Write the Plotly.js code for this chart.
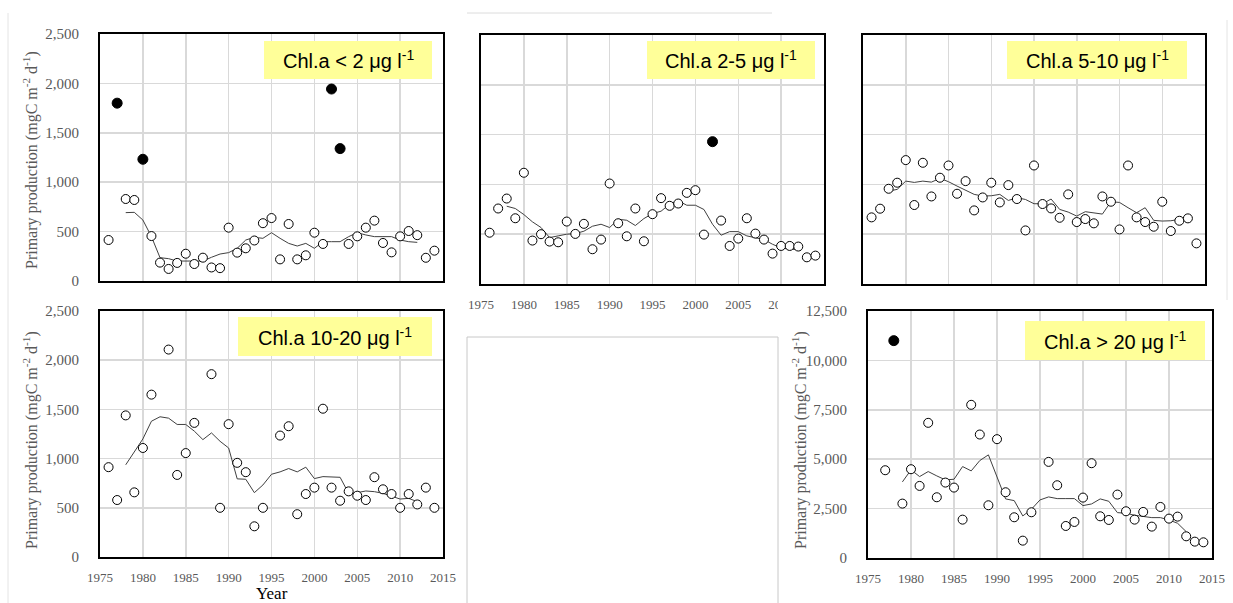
<!DOCTYPE html>
<html>
<head>
<meta charset="utf-8">
<script src="https://cdn.plot.ly/plotly-3.0.1.min.js"></script>
<style>html,body{margin:0;padding:0;background:#fff;}#chart{width:1233px;height:603px;}</style>
</head>
<body>
<div id="chart"></div>
<script>
// ---------- DATA ----------
const panelLabels = ['Chl.a < 2 μg l<sup>-1</sup>', 'Chl.a 2-5 μg l<sup>-1</sup>', 'Chl.a 5-10 μg l<sup>-1</sup>', 'Chl.a 10-20 μg l<sup>-1</sup>', 'Chl.a > 20 μg l<sup>-1</sup>'];
const yTitle = 'Primary production (mgC m<sup>-2</sup> d<sup>-1</sup>)';
const xTitle = 'Year';
const yearTicks = [1975, 1980, 1985, 1990, 1995, 2000, 2005, 2010, 2015];
const yearTicksP2 = [1975, 1980, 1985, 1990, 1995, 2000, 2005, 2010];

// Panel 1: Chl.a < 2
const yearsP1 = [1976,1978,1979,1981,1982,1983,1984,1985,1986,1987,1988,1989,1990,1991,1992,1993,1994,1995,1996,1997,1998,1999,2000,2001,2004,2005,2006,2007,2008,2009,2010,2011,2012,2013,2014];
const ppP1    = [415,830,820,455,186,122,183,276,172,236,137,130,540,287,331,410,585,637,219,577,219,260,489,375,375,452,540,611,385,290,452,506,464,235,307];
const outYearsP1 = [1977,1980,2002,2003];
const outP1      = [1800,1232,1943,1340];
const maYearsP1 = [1978,1979,1980,1981,1982,1983,1984,1985,1986,1987,1988,1989,1990,1991,1992,1993,1994,1995,1996,1997,1998,1999,2000,2001,2002,2003,2004,2005,2006,2007,2008,2009,2010,2011,2012];
const maP1      = [692,695,617,449,236,226,202,202,200,202,240,273,287,331,415,442,432,489,432,381,354,381,331,398,398,398,449,489,466,449,449,449,415,398,391];

// Panel 2: Chl.a 2-5
const yearsP2 = [1976,1977,1978,1979,1980,1981,1982,1983,1984,1985,1986,1987,1988,1989,1990,1991,1992,1993,1994,1995,1996,1997,1998,1999,2000,2001,2003,2004,2005,2006,2007,2008,2009,2010,2011,2012,2013,2014];
const ppP2    = [515,758,858,660,1117,436,500,426,419,627,503,604,349,446,1009,610,479,758,429,701,862,785,808,915,942,496,637,382,456,660,506,446,305,382,382,376,268,285];
const outYearsP2 = [2002];
const outP2      = [1429];
const maYearsP2 = [1978,1979,1980,1981,1982,1983,1984,1985,1986,1987,1988,1989,1990,1991,1992,1993,1994,1995,1996,1997,1998,1999,2000,2001,2002,2003,2004,2005,2006,2007,2008,2009,2010,2011,2012];
const maP2      = [781,758,697,624,567,466,483,500,506,530,580,600,567,650,640,587,657,707,731,801,835,791,791,748,600,490,526,526,483,466,446,399,362,349,345];

// Panel 3: Chl.a 5-10
const yearsP3 = [1976,1977,1978,1979,1980,1981,1982,1983,1984,1985,1986,1987,1988,1989,1990,1991,1992,1993,1994,1995,1996,1997,1998,1999,2000,2001,2002,2003,2004,2005,2006,2007,2008,2009,2010,2011,2012,2013,2014];
const ppP3    = [669,756,956,1017,1244,793,1217,879,1067,1190,906,1033,739,869,1017,819,993,853,538,1190,803,759,665,900,622,652,609,879,826,548,1190,669,622,575,826,532,635,659,408];
const maYearsP3 = [1978,1979,1980,1981,1982,1983,1984,1985,1986,1987,1988,1989,1990,1991,1992,1993,1994,1995,1996,1997,1998,1999,2000,2001,2002,2003,2004,2005,2006,2007,2008,2009,2010,2011,2012];
const maP3      = [933,950,1033,1020,1033,1023,1060,1027,983,940,900,883,886,900,839,866,849,806,806,853,749,722,682,726,716,702,826,819,766,716,766,639,632,635,649];

// Panel 4: Chl.a 10-20
const yearsP4 = [1976,1977,1978,1979,1980,1981,1983,1984,1985,1986,1988,1989,1990,1991,1992,1993,1994,1996,1997,1998,1999,2000,2001,2002,2003,2004,2005,2006,2007,2008,2009,2010,2011,2012,2013,2014];
const ppP4    = [913,579,1439,657,1108,1650,2108,834,1056,1363,1858,500,1350,957,862,312,500,1234,1329,435,640,705,1507,705,572,667,623,579,811,688,640,500,640,534,705,500];
const maYearsP4 = [1978,1979,1980,1981,1982,1983,1984,1985,1986,1987,1988,1989,1990,1991,1992,1993,1994,1995,1996,1997,1998,1999,2000,2001,2002,2003,2004,2005,2006,2007,2008,2009,2010,2011,2012];
const maP4      = [937,1073,1200,1380,1425,1411,1347,1347,1279,1193,1261,1176,1108,794,790,654,732,841,865,899,865,913,797,817,817,810,647,654,671,664,647,620,589,596,562];

// Panel 5: Chl.a > 20
const yearsP5 = [1977,1979,1980,1981,1982,1983,1984,1985,1986,1987,1988,1989,1990,1991,1992,1993,1994,1996,1997,1998,1999,2000,2001,2002,2003,2004,2005,2006,2007,2008,2009,2010,2011,2012,2013,2014];
const ppP5    = [4442,2753,4493,3648,6840,3074,3817,3564,1942,7752,6249,2669,6013,3327,2061,878,2314,4864,3682,1621,1824,3057,4797,2111,1925,3209,2365,1942,2331,1588,2584,1993,2094,1098,828,794];
const outYearsP5 = [1978];
const outP5      = [11000];
const maYearsP5 = [1979,1980,1981,1982,1983,1984,1985,1986,1987,1988,1989,1990,1991,1992,1993,1994,1995,1996,1997,1998,1999,2000,2001,2002,2003,2004,2005,2006,2007,2008,2009,2010,2011,2012];
const maP5      = [3851,4459,4121,4375,4155,3952,3986,4628,4408,4932,5219,4121,2990,2905,2128,2466,2939,3091,3006,3006,3006,2652,2736,2990,2871,2297,2263,2162,2094,2044,2044,1925,1757,1334];

// ---------- LAYOUT HELPERS ----------
const W = 1233, H = 603;
const px = x => x / W;
const py = y => 1 - y / H;

const gridC = '#d9d9d9';
const tickC = '#595959';
const serif = 'Liberation Serif, Times New Roman, serif';
const sans = 'Liberation Sans, Arial, sans-serif';

function xAxis(l, r, anchor, showLabels, tv) {
  return {
    domain: [px(l), px(r)], anchor: anchor, range: [1975, 2015], tickmode: 'array', tickvals: tv,
    showgrid: true, gridcolor: gridC, gridwidth: 1.5, zeroline: false,
    showline: true, mirror: true, linecolor: '#000', linewidth: 2,
    ticks: '', showticklabels: showLabels, ticklabelstandoff: 7,
    tickfont: {family: serif, size: 13, color: tickC}, fixedrange: true
  };
}
function yAxis(t, b, anchor, maxV, step, showLabels) {
  return {
    domain: [py(b), py(t)], anchor: anchor, range: [0, maxV], tick0: 0, dtick: step,
    showgrid: true, gridcolor: gridC, gridwidth: 1.5, zeroline: false,
    showline: true, mirror: true, linecolor: '#000', linewidth: 2,
    ticks: '', showticklabels: showLabels, tickformat: ',', ticklabelstandoff: 16,
    tickfont: {family: serif, size: 15, color: tickC}, fixedrange: true
  };
}

const panels = [
  {xa: 'x',  ya: 'y',  yrs: yearsP1, vals: ppP1, oy: outYearsP1, ov: outP1, my: maYearsP1, mv: maP1},
  {xa: 'x2', ya: 'y2', yrs: yearsP2, vals: ppP2, oy: outYearsP2, ov: outP2, my: maYearsP2, mv: maP2},
  {xa: 'x3', ya: 'y3', yrs: yearsP3, vals: ppP3, oy: [], ov: [], my: maYearsP3, mv: maP3},
  {xa: 'x4', ya: 'y4', yrs: yearsP4, vals: ppP4, oy: [], ov: [], my: maYearsP4, mv: maP4},
  {xa: 'x5', ya: 'y5', yrs: yearsP5, vals: ppP5, oy: outYearsP5, ov: outP5, my: maYearsP5, mv: maP5}
];

const traces = [];
panels.forEach(p => {
  traces.push({x: p.my, y: p.mv, xaxis: p.xa, yaxis: p.ya, type: 'scatter', mode: 'lines',
    line: {color: '#404040', width: 1}, hoverinfo: 'skip', showlegend: false});
  traces.push({x: p.yrs, y: p.vals, xaxis: p.xa, yaxis: p.ya, type: 'scatter', mode: 'markers',
    marker: {symbol: 'circle', size: 9, color: '#ffffff', line: {color: '#000', width: 1}}, showlegend: false});
  if (p.oy.length) traces.push({x: p.oy, y: p.ov, xaxis: p.xa, yaxis: p.ya, type: 'scatter', mode: 'markers',
    marker: {symbol: 'circle', size: 10, color: '#000', line: {color: '#000', width: 1}}, showlegend: false});
});

// label boxes [left, right, top, bottom]
const boxes = [[264, 432, 41, 79], [647, 815, 41, 79], [1007, 1187, 41, 79], [238, 432, 317, 356], [1025, 1205, 321, 360]];

const shapes = [];
const annotations = [];
boxes.forEach((b, i) => {
  shapes.push({type: 'rect', xref: 'paper', yref: 'paper', x0: px(b[0]), x1: px(b[1]), y0: py(b[3]), y1: py(b[2]),
    fillcolor: '#FFFF99', line: {width: 0}, layer: 'above'});
  annotations.push({xref: 'paper', yref: 'paper', x: px((b[0] + b[1]) / 2), y: py((b[2] + b[3]) / 2),
    xanchor: 'center', yanchor: 'middle', showarrow: false, text: panelLabels[i],
    font: {family: sans, size: 20, color: '#000'}});
});
// cover for the clipped tick label of panel 2 (overlapped by the next image in the source figure)
shapes.push({type: 'rect', xref: 'paper', yref: 'paper', x0: px(778), x1: px(800), y0: py(312), y1: py(287),
  fillcolor: '#fff', line: {width: 0}, layer: 'above'});
// decorative frame lines of the composite figure
shapes.push({type: 'rect', xref: 'paper', yref: 'paper', x0: px(467), x1: px(778), y0: py(610), y1: py(337),
  fillcolor: 'rgba(0,0,0,0)', line: {color: '#c8c8c8', width: 1}, layer: 'below'});
shapes.push({type: 'line', xref: 'paper', yref: 'paper', x0: px(467), x1: px(772), y0: py(13), y1: py(13),
  line: {color: '#dcdcdc', width: 1}});
shapes.push({type: 'line', xref: 'paper', yref: 'paper', x0: px(8), x1: px(8), y0: py(13), y1: py(603),
  line: {color: '#e4e4e4', width: 1}});
shapes.push({type: 'line', xref: 'paper', yref: 'paper', x0: px(1227), x1: px(1227), y0: py(20), y1: py(300),
  line: {color: '#e4e4e4', width: 1}});

// y-axis titles
[[30, 160], [30, 440], [799, 440]].forEach(c => {
  annotations.push({xref: 'paper', yref: 'paper', x: px(c[0]), y: py(c[1]), xanchor: 'center', yanchor: 'middle',
    textangle: -90, showarrow: false, text: yTitle, font: {family: serif, size: 16, color: tickC}});
});
annotations.push({xref: 'paper', yref: 'paper', x: px(272), y: py(593), xanchor: 'center', yanchor: 'middle',
  showarrow: false, text: xTitle, font: {family: serif, size: 17, color: '#000'}});

const layout = {
  width: W, height: H, margin: {l: 0, r: 0, t: 0, b: 0},
  paper_bgcolor: '#fff', plot_bgcolor: '#fff', showlegend: false,
  xaxis:  xAxis(100, 443, 'y', false, yearTicks),
  yaxis:  yAxis(34, 281, 'x', 2500, 500, true),
  xaxis2: xAxis(481, 824, 'y2', true, yearTicksP2),
  yaxis2: yAxis(35, 284, 'x2', 2500, 500, false),
  xaxis3: xAxis(863, 1205, 'y3', false, yearTicks),
  yaxis3: yAxis(35, 284, 'x3', 2500, 500, false),
  xaxis4: xAxis(100, 443, 'y4', true, yearTicks),
  yaxis4: yAxis(311, 557, 'x4', 2500, 500, true),
  xaxis5: xAxis(868, 1212, 'y5', true, yearTicks),
  yaxis5: yAxis(311, 558, 'x5', 12500, 2500, true),
  shapes: shapes, annotations: annotations
};

Plotly.newPlot('chart', traces, layout, {displayModeBar: false, staticPlot: true});
</script>
</body>
</html>
